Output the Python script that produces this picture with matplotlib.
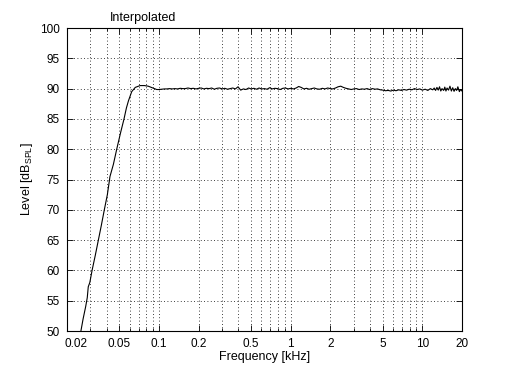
import matplotlib
matplotlib.use("Agg")
import matplotlib.pyplot as plt
from matplotlib.ticker import FixedLocator, NullFormatter
from matplotlib.transforms import ScaledTranslation

plt.rcParams['font.family'] = ['Liberation Sans', 'DejaVu Sans']
plt.rcParams['mathtext.fontset'] = 'custom'
plt.rcParams['mathtext.rm'] = 'Liberation Sans'

# Data (frequency in kHz, level in dB SPL)
rise_freq = [0.0255, 0.0265, 0.0277, 0.0285, 0.029, 0.0298, 0.031, 0.0328, 0.0346, 0.0365,
             0.0384, 0.0405, 0.0424, 0.045, 0.0477, 0.051, 0.0542, 0.0565, 0.0586, 0.062,
             0.066, 0.0718, 0.0775, 0.0828, 0.09, 0.096]
rise_level = [50.0, 52.0, 54.0, 55.5, 57.3, 58.0, 60.0, 62.5, 65.0, 67.5,
              70.0, 72.5, 75.5, 77.5, 80.0, 82.7, 85.0, 86.8, 88.0, 89.5,
              90.2, 90.5, 90.5, 90.4, 90.1, 89.85]

flat_freq = [0.1, 0.105, 0.11, 0.115, 0.12, 0.126, 0.132, 0.138, 0.145, 0.151,
             0.158, 0.166, 0.174, 0.182, 0.191, 0.2,
             0.209, 0.219, 0.229, 0.24, 0.251, 0.263, 0.275, 0.288, 0.302, 0.316,
             0.331, 0.347, 0.363, 0.38, 0.398,
             0.417, 0.437, 0.457, 0.479, 0.501, 0.525, 0.55, 0.575, 0.603, 0.631,
             0.661, 0.692, 0.724, 0.759, 0.794, 0.832, 0.871, 0.912, 0.955, 1.0,
             1.05, 1.1, 1.15, 1.2, 1.26, 1.32, 1.38, 1.45, 1.51, 1.58,
             1.66, 1.74, 1.82, 1.91, 2.0,
             2.09, 2.19, 2.29, 2.4, 2.51, 2.63, 2.75, 2.88, 3.02, 3.16,
             3.31, 3.47, 3.63, 3.8, 3.98, 4.17, 4.37, 4.57, 4.79,
             5.01, 5.25, 5.5, 5.75, 6.03, 6.31, 6.61, 6.92, 7.24, 7.59,
             7.94, 8.32, 8.71, 9.12, 9.55, 10.0,
             10.5, 11.0, 11.5, 12.0, 12.3, 12.6, 12.9, 13.2, 13.5, 13.8,
             14.1, 14.5, 14.8, 15.1, 15.4, 15.8, 16.2, 16.6, 17.0, 17.4,
             17.8, 18.2, 18.6, 19.1, 19.5, 20.0]
flat_level = [89.85, 89.9, 89.95, 89.95, 90.0, 89.95, 90.0, 89.95, 90.05, 90.0,
              90.0, 90.1, 90.0, 90.05, 89.95, 90.05,
              90.1, 89.95, 90.05, 90.0, 90.1, 89.9, 90.05, 90.1, 89.95, 90.05,
              89.9, 90.0, 90.1, 89.95, 90.3,
              89.75, 89.95, 89.85, 90.1, 89.95, 90.05, 89.9, 90.1, 89.95, 90.0,
              89.9, 90.15, 89.95, 90.05, 90.0, 89.85, 90.05, 90.1, 89.95, 90.05,
              89.95, 90.1, 90.35, 90.2, 89.95, 90.05, 89.9, 90.0, 90.1, 89.95,
              89.9, 90.05, 89.95, 90.1, 90.0,
              89.95, 90.1, 90.3, 90.4, 90.2, 90.05, 89.95, 89.85, 89.95, 90.0,
              89.85, 89.95, 89.9, 90.0, 89.85, 90.0, 89.9, 89.95, 89.8,
              89.75, 89.65, 89.7, 89.6, 89.75, 89.65, 89.8, 89.7, 89.85, 89.75,
              89.9, 89.8, 90.0, 89.85, 89.95, 89.75,
              89.9, 89.7, 90.0, 89.8, 90.1, 89.7, 90.2, 89.75, 90.3, 89.6,
              90.0, 89.7, 90.25, 89.6, 90.1, 89.75, 90.4, 89.6, 90.15, 89.55,
              90.0, 89.7, 90.3, 89.5, 89.85, 89.6]

freq_khz = rise_freq + flat_freq
level_db = rise_level + flat_level

xticks = [0.02, 0.05, 0.1, 0.2, 0.5, 1, 2, 5, 10, 20]
xticklabels = ['0.02', '0.05', '0.1', '0.2', '0.5', '1', '2', '5', '10', '20']
xminor = [0.03, 0.04, 0.06, 0.07, 0.08, 0.09, 0.3, 0.4, 0.6, 0.7, 0.8, 0.9,
          3, 4, 6, 7, 8, 9]
yticks = [50, 55, 60, 65, 70, 75, 80, 85, 90, 95, 100]

fig = plt.figure(figsize=(5.10, 3.72), dpi=100)
ax = fig.add_axes([0.1314, 0.1102, 0.7745, 0.8145])
ax.plot(freq_khz, level_db, color='black', linewidth=0.8)
ax.set_xscale('log')
ax.set_xlim(0.02, 20)
ax.set_ylim(50, 100)
ax.xaxis.set_major_locator(FixedLocator(xticks))
ax.set_xticklabels(xticklabels)
ax.xaxis.set_minor_locator(FixedLocator(xminor))
ax.xaxis.set_minor_formatter(NullFormatter())
ax.set_yticks(yticks)
ax.set_yticklabels([str(v) for v in yticks])

grid_kw = dict(color='black', linestyle=(0, (1, 3)), linewidth=0.6)
ax.grid(True, which='major', axis='both', **grid_kw)
ax.grid(True, which='minor', axis='x', **grid_kw)

ax.tick_params(which='both', direction='in', top=True, right=True,
               labelsize=8.5, width=0.6, colors='black')
ax.tick_params(which='major', length=4)
ax.tick_params(which='minor', length=2)
ax.tick_params(axis='x', which='major', pad=5)
ax.tick_params(axis='y', which='major', pad=5)
for s in ax.spines.values():
    s.set_linewidth(0.8)

# First x label sits just right of the axis corner, as in the reference
first = ax.get_xticklabels()[0]
first.set_horizontalalignment('left')
first.set_transform(first.get_transform() + ScaledTranslation(-3 / 100, 0, fig.dpi_scale_trans))

ax.set_xlabel('Frequency [kHz]', fontsize=9, labelpad=1)
ax.set_ylabel('Level [dB$_{\\mathrm{SPL}}$]', fontsize=9, labelpad=4)
fig.text(0.28, 0.944, 'Interpolated', fontsize=9, ha='center', va='baseline')

fig.savefig('out.png', dpi=100, facecolor='white')
